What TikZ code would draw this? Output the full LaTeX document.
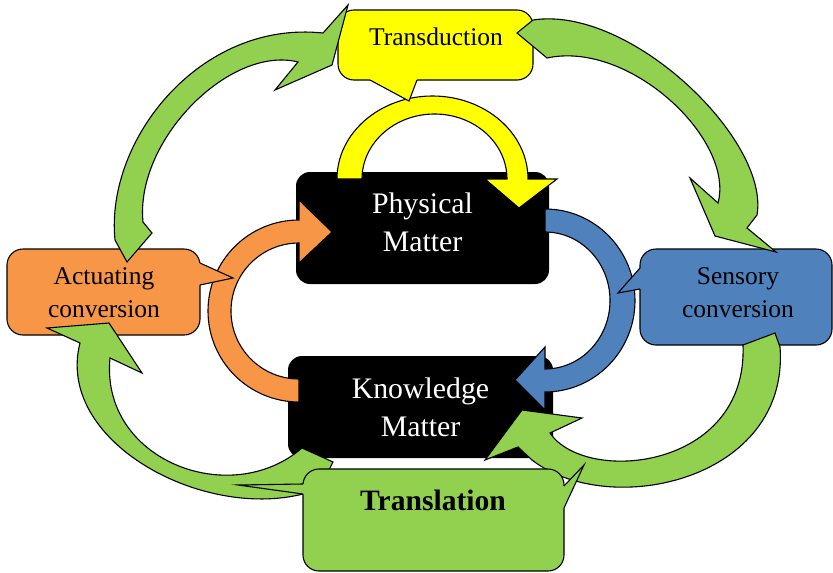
\documentclass[tikz,border=0pt]{standalone}
\usepackage{fontspec}
\setmainfont{Liberation Serif}
\definecolor{leafgreen}{HTML}{92D050}
\definecolor{sunyellow}{HTML}{FFFF00}
\definecolor{tangerine}{HTML}{F79646}
\definecolor{steelblue}{HTML}{4F81BD}
\begin{document}
\begin{tikzpicture}[x=1pt,y=-1pt,
  ink/.style={draw=black,line width=1.1pt,line join=miter,miter limit=25},
  matterbox/.style={fill=black,rounded corners=14pt,inner sep=0pt},
  mattertext/.style={text=white,align=center,inner sep=0pt,font=\fontsize{29.8}{38}\selectfont},
  callouttext/.style={text=black,align=center,inner sep=0pt,font=\fontsize{25.5}{33}\selectfont},
  boldtext/.style={text=black,inner sep=0pt,font=\fontsize{29.6}{36}\selectfont\bfseries},
  bubble/.style={ink,rounded corners=16pt},
  bendarrow/.style={ink,fill=leafgreen}]
\useasboundingbox (0,0) rectangle (833,573);

% the two matter boxes
\node[matterbox,minimum width=253pt,minimum height=112pt] (phys) at (422.5,228) {};
\node[matterbox,minimum width=265pt,minimum height=102pt] (know) at (420.5,407) {};
\node[mattertext] (physlabel) at (422.5,222.5) {Physical\\Matter};
\node[mattertext] (knowlabel) at (420.5,407.5) {Knowledge\\Matter};

% inner loop: yellow, orange and blue curved arrows
\filldraw[ink,fill=sunyellow] (337,179)
  arc[start angle=180,end angle=360,x radius=95.5,y radius=83]
  -- (557,179) -- (519,208) -- (485,179) -- (507,179)
  arc[start angle=360,end angle=180,x radius=72.5,y radius=65] -- cycle;
\filldraw[ink,fill=tangerine] (299,402)
  arc[start angle=90,end angle=270,radius=91]
  -- (299,200) -- (332,232) -- (299,263) -- (299,243)
  arc[start angle=270,end angle=90,radius=68] -- cycle;
\filldraw[ink,fill=steelblue] (545,209)
  arc[start angle=270,end angle=450,x radius=90,y radius=91.5]
  -- (545,410) -- (515,380) -- (545,347) -- (545,369)
  arc[start angle=90,end angle=-90,x radius=65,y radius=68.5] -- cycle;

% callout: Transduction
\filldraw[bubble,fill=sunyellow] (338,10) rectangle (533,80);
\fill[sunyellow] (370,80) -- (409,101) -- (417,80) -- (417,76) -- (370,76) -- cycle;
\draw[ink] (370,80) -- (409,101) -- (417,80);
\node[callouttext] (transduction) at (436,37) {Transduction};

% callout: Actuating conversion
\filldraw[bubble,fill=tangerine] (7,249) rectangle (200,335);
\fill[tangerine] (200,263) -- (233,278) -- (200,285) -- (196,285) -- (196,263) -- cycle;
\draw[ink] (200,263) -- (233,278) -- (200,285);
\node[callouttext] (actuating) at (104,292.5) {Actuating\\conversion};

% callout: Sensory conversion
\filldraw[bubble,fill=steelblue] (640,249) rectangle (832,345);
\fill[steelblue] (640,268) -- (618,293) -- (640,289) -- (644,289) -- (644,268) -- cycle;
\draw[ink] (640,268) -- (618,293) -- (640,289);
\node[callouttext] (sensory) at (738,292.5) {Sensory\\conversion};

% outer loop: green curved arrows
% Actuating conversion -> Transduction
\filldraw[bendarrow] (127,262) -- (115,240)
  .. controls (105,140) and (200,20) .. (323,33)
  -- (348,5) -- (332,65) -- (275,90) -- (298,62)
  .. controls (230,45) and (135,140) .. (143,222)
  -- (152,233) -- cycle;
% Transduction -> Sensory conversion
\filldraw[bendarrow] (517,33) -- (533,20)
  .. controls (630,5) and (770,140) .. (757,215)
  -- (747,228) -- (776,252) -- (715,236) -- (690,178) -- (718,203)
  .. controls (735,140) and (630,40) .. (547,58)
  -- cycle;
% Sensory conversion -> Knowledge Matter
\filldraw[bendarrow] (743,345) -- (775,333) -- (780,347)
  .. controls (790,480) and (610,520) .. (532,460)
  -- (518,447) -- (485,460) -- (522,410) -- (582,418) -- (550,433)
  .. controls (585,485) and (748,470) .. (743,345)
  -- cycle;
% Knowledge Matter -> Actuating conversion
\filldraw[bendarrow] (80,343) -- (47,328) -- (109,323) -- (142,373) -- (110,358)
  .. controls (100,460) and (230,510) .. (302,448)
  -- (333,462) -- (330,468) -- (318,488) -- (303,494)
  .. controls (200,520) and (55,440) .. (80,343)
  -- cycle;

% callout: Translation
\filldraw[bubble,fill=leafgreen] (303,469) rectangle (564,571);
\fill[leafgreen] (564,486) -- (584,465) -- (564,508) -- (560,508) -- (560,486) -- cycle;
\draw[ink] (564,486) -- (584,465) -- (564,508);
\fill[leafgreen] (303,484) -- (238,485) -- (303,494) -- (307,494) -- (307,484) -- cycle;
\draw[ink] (303,484) -- (238,485) -- (303,494);
\node[boldtext] (translation) at (433,500) {Translation};
\end{tikzpicture}
\end{document}
